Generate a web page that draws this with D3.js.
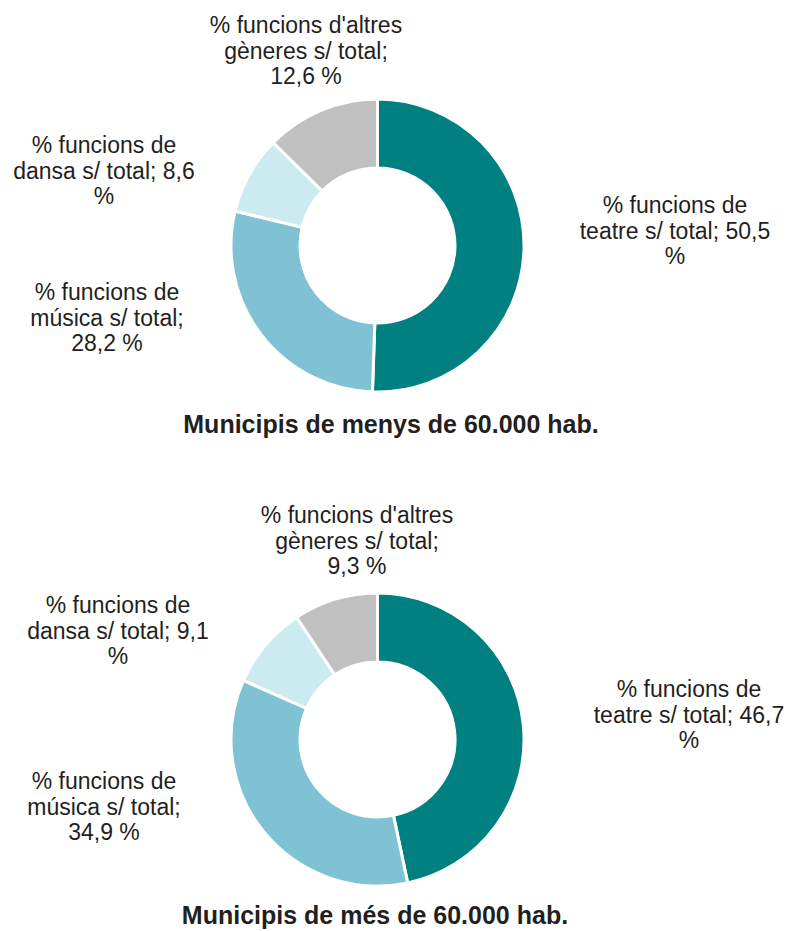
<!DOCTYPE html>
<html>
<head>
<meta charset="utf-8">
<script src="https://cdn.jsdelivr.net/npm/d3@7"></script>
<style>
  body { margin: 0; background: #fff; }
  #chart { width: 790px; height: 931px; }
  text { font-family: "Liberation Sans", Arial, sans-serif; fill: #231f20; }
</style>
</head>
<body>
<div id="chart"></div>
<script>
// categories in drawing order (clockwise from 12 o'clock)
const categories = ["teatre", "música", "dansa", "altres"];
const labelNames = [
    "% funcions de teatre s/ total",
    "% funcions de música s/ total",
    "% funcions de dansa s/ total",
    "% funcions d'altres gèneres s/ total"
];
// series values (%)
const smallTowns = [50.5, 28.2, 8.6, 12.6];
const bigTowns = [46.7, 34.9, 9.1, 9.3];
const titles = ["Municipis de menys de 60.000 hab.", "Municipis de més de 60.000 hab."];

const colors = ["#008080", "#7fc2d3", "#cbebf0", "#c0c0c0"];

// label line breaks, as in the original ({v} = value)
const labelLines = {
    "teatre": ["% funcions de", "teatre s/ total; {v}", "%"],
    "música": ["% funcions de", "música s/ total;", "{v} %"],
    "dansa": ["% funcions de", "dansa s/ total; {v}", "%"],
    "altres": ["% funcions d'altres", "gèneres s/ total;", "{v} %"]
};

// layout: label anchors (centre x, first baseline y) per chart
const labelPos = [
    { "teatre": [675, 213], "música": [107, 300], "dansa": [104, 153], "altres": [306, 33] },
    { "teatre": [689, 697], "música": [104, 789], "dansa": [118, 613], "altres": [357, 523] }
];
const centers = [[377.5, 245.5], [377.5, 739.5]];
const titlePos = [[391, 433], [375, 924]];
const outerR = 146.5;
const innerR = 77.5;
const lineH = 25.5;

const width = 790, height = 931;
const fmt = v => d3.format(".1f")(v).replace(".", ",");

const svg = d3.select("#chart")
    .append("svg")
    .attr("width", width)
    .attr("height", height);

const pie = d3.pie()
    .sort(null)
    .value(d => d.value);

const arc = d3.arc()
    .innerRadius(innerR)
    .outerRadius(outerR);

const color = d3.scaleOrdinal()
    .domain(categories)
    .range(colors);

[smallTowns, bigTowns].forEach(function(values, i) {
    const data = categories.map((c, j) => ({ cat: c, name: labelNames[j], value: values[j] }));

    const g = svg.append("g")
        .attr("transform", `translate(${centers[i][0]},${centers[i][1]})`);

    g.selectAll("path")
        .data(pie(data))
        .enter().append("path")
        .attr("d", arc)
        .attr("fill", d => color(d.data.cat))
        .attr("stroke", "#fff")
        .attr("stroke-width", 3);

    // data labels
    data.forEach(function(d) {
        const pos = labelPos[i][d.cat];
        const t = svg.append("text")
            .attr("text-anchor", "middle")
            .attr("font-size", "23px");
        labelLines[d.cat].forEach(function(line, k) {
            t.append("tspan")
                .attr("x", pos[0])
                .attr("y", pos[1] + k * lineH)
                .text(line.replace("{v}", fmt(d.value)));
        });
    });

    // chart title
    svg.append("text")
        .attr("x", titlePos[i][0])
        .attr("y", titlePos[i][1])
        .attr("text-anchor", "middle")
        .attr("font-size", "25px")
        .attr("font-weight", "bold")
        .text(titles[i]);
});
</script>
</body>
</html>
